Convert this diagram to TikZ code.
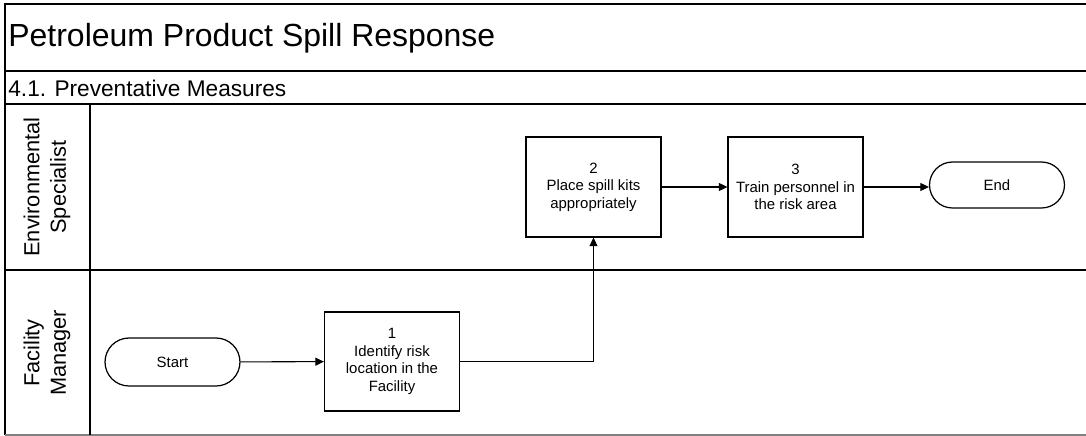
\documentclass[tikz,border=0pt]{standalone}
\usepackage{fontspec}
\setmainfont{Liberation Sans}
\usetikzlibrary{arrows.meta}
\begin{document}
\begin{tikzpicture}[x=0.02cm,y=-0.02cm,
  stepbox/.style={draw,line width=0.7pt,minimum width=2.7cm,minimum height=2cm,
    align=center,inner sep=1pt,font=\fontsize{8.5}{10}\selectfont},
  terminal/.style={draw,line width=0.7pt,rounded corners=0.48cm,minimum width=2.7cm,
    minimum height=0.96cm,font=\fontsize{8.5}{10}\selectfont},
  lanelabel/.style={rotate=90,align=center,font=\fontsize{12.4}{15}\selectfont},
  flow/.style={line width=0.6pt,-{Triangle[length=1.7mm,width=1.6mm]}}]
\useasboundingbox (0,0) rectangle (1086,436);
% Frame and lanes
\draw[line width=0.9pt] (1086,4) -- (5,4) -- (5,435);
\draw[line width=0.9pt,gray] (5,435) -- (1086,435);
\foreach \y in {71,104,270} {
  \draw[line width=0.9pt] (5,\y) -- (1086,\y);
}
\draw[line width=0.9pt] (90,104) -- (90,435);

% Titles
\node[anchor=west,inner sep=0pt,font=\fontsize{18.2}{20}\selectfont] (title) at (8,38) {Petroleum Product Spill Response};
\node[anchor=west,inner sep=0pt,font=\fontsize{12.9}{14}\selectfont] (subtitle) at (8,88) {4.1. Preventative Measures};
\node[lanelabel] (envlane) at (47,187) {Environmental\\Specialist};
\node[lanelabel] (faclane) at (47,353) {Facility\\Manager};

% Process steps
\node[terminal] (start) at (172.5,362) {Start};
\node[stepbox,minimum height=1.98cm] (identify) at (392,361.5) {1\\Identify risk\\location in the\\Facility};
\node[stepbox] (place) at (593.5,187) {2\\Place spill kits\\appropriately};
\node[stepbox] (train) at (795.5,187) {3\\Train personnel in\\the risk area};
\node[terminal,minimum height=0.92cm,rounded corners=0.46cm] (end) at (997,185) {End};

% Connectors
\draw[flow] (start) -- (identify);
\draw[flow] (identify) -| (place);
\draw[flow] (place) -- (train);
\draw[flow] (train) -- (train -| end.west);
\end{tikzpicture}
\end{document}
